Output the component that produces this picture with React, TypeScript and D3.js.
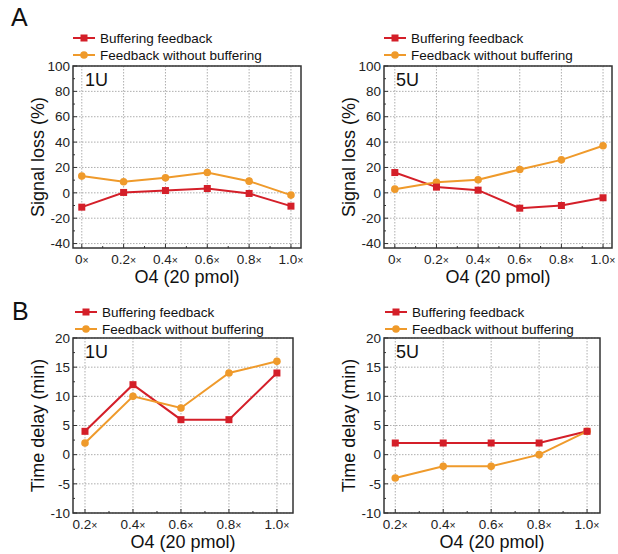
import React from 'react';
import * as d3 from 'd3';

// panel A: signal loss (%)
const doseA = [0, 0.2, 0.4, 0.6, 0.8, 1.0];
const lossBuf1U = [-11.3, 0.3, 1.8, 3.4, -0.5, -10.5];
const lossNoBuf1U = [13.2, 8.7, 11.8, 16, 9.2, -1.8];
const lossBuf5U = [16, 4.5, 2.1, -12.1, -10, -3.9];
const lossNoBuf5U = [2.9, 8.4, 10.3, 18.4, 26, 37.1];
const ticksA = [-40, -20, 0, 20, 40, 60, 80, 100];

// panel B: time delay (min)
const doseB = [0.2, 0.4, 0.6, 0.8, 1.0];
const delayBuf1U = [4, 12, 6, 6, 14];
const delayNoBuf1U = [2, 10, 8, 14, 16];
const delayBuf5U = [2, 2, 2, 2, 4];
const delayNoBuf5U = [-4, -2, -2, 0, 4];
const ticksB = [-10, -5, 0, 5, 10, 15, 20];

const seriesNames = ['Buffering feedback', 'Feedback without buffering'];
const RED = '#d41f29';
const ORANGE = '#ef9a2b';
const FONT = 'Liberation Sans, Arial, sans-serif';

type PanelProps = {
  x0: number; x1: number; y0: number; y1: number;
  xDomain: [number, number]; yDomain: [number, number];
  doses: number[]; buf: number[]; noBuf: number[];
  yTicks: number[]; yMinorStep: number;
  yTitle: string; tag: string;
  legendX: number; legendY: number;
};

const fmtDose = (d: number) => (d === 0 ? '0' : d.toFixed(1));

const Panel = (p: PanelProps) => {
  const x = d3.scaleLinear().domain(p.xDomain).range([p.x0, p.x1]);
  const y = d3.scaleLinear().domain(p.yDomain).range([p.y1, p.y0]);
  const line = d3.line<[number, number]>().x(d => x(d[0])).y(d => y(d[1]));
  const bufPts = p.doses.map((d, i) => [d, p.buf[i]] as [number, number]);
  const noPts = p.doses.map((d, i) => [d, p.noBuf[i]] as [number, number]);

  const yMinor: number[] = [];
  for (let v = p.yTicks[0] - p.yMinorStep; v <= p.yDomain[1]; v += p.yMinorStep) {
    if (v >= p.yDomain[0] && !p.yTicks.some(t => Math.abs(t - v) < 1e-6)) yMinor.push(v);
  }
  const xMinor = p.doses.slice(0, -1).map(d => d + 0.1);
  const cy = (p.y0 + p.y1) / 2;

  return (
    <g fontFamily={FONT}>
      {/* grid */}
      {p.yTicks.map(t => (
        <line key={'gy' + t} x1={p.x0} x2={p.x1} y1={y(t)} y2={y(t)}
          stroke="#999" strokeWidth={0.8} strokeDasharray="1.5,1.5" />
      ))}
      {p.doses.map(d => (
        <line key={'gx' + d} x1={x(d)} x2={x(d)} y1={p.y0} y2={p.y1}
          stroke="#999" strokeWidth={0.8} strokeDasharray="1.5,1.5" />
      ))}
      {/* ticks */}
      {p.yTicks.map(t => (
        <line key={'ty' + t} x1={p.x0} x2={p.x0 + 4} y1={y(t)} y2={y(t)} stroke="#333" strokeWidth={1} />
      ))}
      {yMinor.map(t => (
        <line key={'tmy' + t} x1={p.x0} x2={p.x0 + 2} y1={y(t)} y2={y(t)} stroke="#333" strokeWidth={1} />
      ))}
      {p.doses.map(d => (
        <line key={'tx' + d} x1={x(d)} x2={x(d)} y1={p.y1} y2={p.y1 - 4} stroke="#333" strokeWidth={1} />
      ))}
      {xMinor.map(d => (
        <line key={'tmx' + d} x1={x(d)} x2={x(d)} y1={p.y1} y2={p.y1 - 2} stroke="#333" strokeWidth={1} />
      ))}
      <rect x={p.x0} y={p.y0} width={p.x1 - p.x0} height={p.y1 - p.y0}
        fill="none" stroke="#333" strokeWidth={1.5} />
      {/* tick labels */}
      {p.yTicks.map(t => (
        <text key={'ly' + t} x={p.x0 - 3} y={y(t)} dy="0.35em" textAnchor="end" fontSize={13.5} fill="#222">{t}</text>
      ))}
      {p.doses.map(d => (
        <text key={'lx' + d} x={x(d)} y={p.y1 + 16} textAnchor="middle" fontSize={13.5} fill="#222">
          {fmtDose(d)}<tspan fontSize={10.5}>×</tspan>
        </text>
      ))}
      <text x={(p.x0 + p.x1) / 2} y={p.y1 + 35} textAnchor="middle" fontSize={18} fill="#111">O4 (20 pmol)</text>
      <text transform={`translate(${p.x0 - 29},${cy}) rotate(-90)`} textAnchor="middle" fontSize={18} fill="#111">{p.yTitle}</text>
      <text x={p.x0 + 12} y={p.y0 + 20} fontSize={18} fill="#111">{p.tag}</text>
      {/* series */}
      <path d={line(bufPts) || ''} fill="none" stroke={RED} strokeWidth={2} />
      <path d={line(noPts) || ''} fill="none" stroke={ORANGE} strokeWidth={2} />
      {noPts.map((d, i) => (
        <circle key={'c' + i} cx={x(d[0])} cy={y(d[1])} r={3.8} fill={ORANGE} />
      ))}
      {bufPts.map((d, i) => (
        <rect key={'s' + i} x={x(d[0]) - 3.5} y={y(d[1]) - 3.5} width={7} height={7} fill={RED} />
      ))}
      {/* legend */}
      {seriesNames.map((name, i) => {
        const ly = p.legendY + i * 17;
        const col = i === 0 ? RED : ORANGE;
        return (
          <g key={name}>
            <line x1={p.legendX} x2={p.legendX + 22} y1={ly} y2={ly} stroke={col} strokeWidth={2} />
            {i === 0
              ? <rect x={p.legendX + 7.5} y={ly - 3.5} width={7} height={7} fill={col} />
              : <circle cx={p.legendX + 11} cy={ly} r={3.8} fill={col} />}
            <text x={p.legendX + 27} y={ly} dy="0.35em" fontSize={13.5} fill="#111">{name}</text>
          </g>
        );
      })}
    </g>
  );
};

const App = () => {
  return (
    <svg width={618} height={554} style={{ position: 'absolute', left: 0, top: 0, background: '#fff' }}>
      <text x={11} y={26} fontFamily={FONT} fontSize={25} fill="#111">A</text>
      <text x={12} y={320} fontFamily={FONT} fontSize={25} fill="#111">B</text>
      <Panel x0={73} x1={301} y0={66} y1={248} xDomain={[-0.042, 1.048]} yDomain={[-43.5, 100]}
        doses={doseA} buf={lossBuf1U} noBuf={lossNoBuf1U} yTicks={ticksA} yMinorStep={10}
        yTitle="Signal loss (%)" tag="1U" legendX={73} legendY={38} />
      <Panel x0={384} x1={612} y0={66} y1={248} xDomain={[-0.052, 1.043]} yDomain={[-43.5, 100]}
        doses={doseA} buf={lossBuf5U} noBuf={lossNoBuf5U} yTicks={ticksA} yMinorStep={10}
        yTitle="Signal loss (%)" tag="5U" legendX={384} legendY={38} />
      <Panel x0={73} x1={293} y0={338} y1={513} xDomain={[0.15, 1.067]} yDomain={[-10, 20]}
        doses={doseB} buf={delayBuf1U} noBuf={delayNoBuf1U} yTicks={ticksB} yMinorStep={2.5}
        yTitle="Time delay (min)" tag="1U" legendX={75} legendY={312} />
      <Panel x0={384} x1={600} y0={338} y1={513} xDomain={[0.153, 1.054]} yDomain={[-10, 20]}
        doses={doseB} buf={delayBuf5U} noBuf={delayNoBuf5U} yTicks={ticksB} yMinorStep={2.5}
        yTitle="Time delay (min)" tag="5U" legendX={385} legendY={312} />
    </svg>
  );
};

export default App;
